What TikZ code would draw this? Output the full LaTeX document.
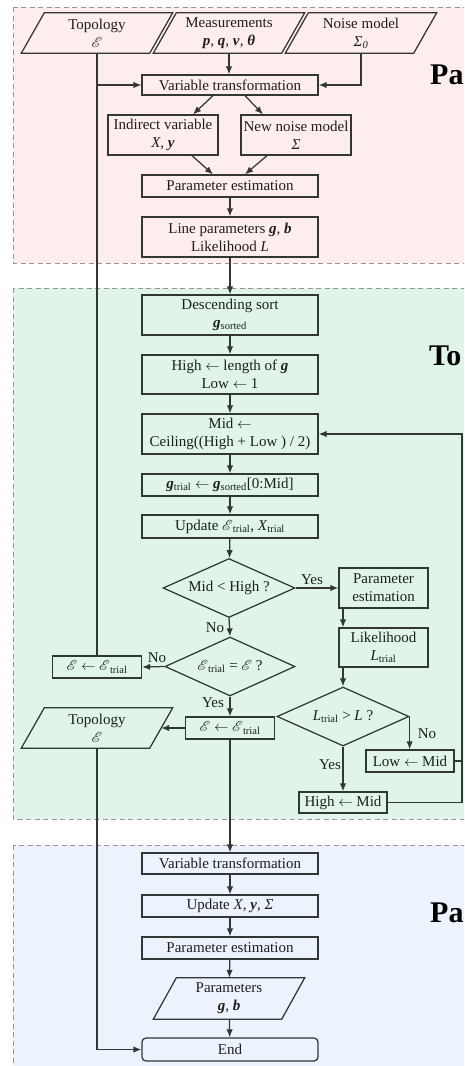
\documentclass[tikz,border=0pt]{standalone}
\usepackage{fontspec}
\usepackage{amsmath}
\usepackage{mathrsfs}
\setmainfont{Liberation Serif}
\usetikzlibrary{arrows.meta,shapes.geometric}

\definecolor{pinkbg}{RGB}{253,237,237}
\definecolor{greenbg}{RGB}{224,245,232}
\definecolor{bluebg}{RGB}{236,243,253}
\definecolor{dashc}{RGB}{150,150,150}
\definecolor{linec}{RGB}{50,55,53}
\definecolor{textc}{RGB}{30,30,30}

\newcommand{\Ecal}{\ensuremath{\mathscr{E}}}
\newcommand{\bivar}[1]{\textbf{\textit{#1}}}
\newcommand{\sbs}[1]{\textsubscript{#1}}
\newcommand{\getsarrow}{\ensuremath{\leftarrow}}

% parallelogram: text node plus slanted outline
\newcommand{\ionode}[4]{%
  \node[iotext, minimum height=#3] (#1) at (#2) {#4};
  \draw[ln] ([xshift=-11.5pt]#1.south west) -- ([xshift=11.5pt]#1.north west)
    -- ([xshift=11.5pt]#1.north east) -- ([xshift=-11.5pt]#1.south east) -- cycle;}

\begin{document}
\begin{tikzpicture}[x=1pt,y=-1pt,
  font=\fontsize{15}{18}\selectfont,
  ln/.style={draw=linec, line width=1.25pt},
  box/.style={rectangle, ln, inner sep=0pt, align=center, text=textc},
  wbox/.style={box, minimum width=176pt},
  sbox/.style={box, minimum width=89pt},
  iotext/.style={rectangle, inner sep=0pt, align=center, text=textc, minimum width=128pt},
  dia/.style={diamond, ln, inner sep=0pt, aspect=2.2, minimum width=132pt,
    minimum height=59pt, text=textc},
  arr/.style={ln, -{Latex[length=8pt,width=6.5pt]}},
  lbl/.style={text=textc, inner sep=0pt},
  big/.style={font=\fontsize{30}{30}\selectfont\bfseries, anchor=base west,
    inner sep=0pt, text=black},
  region/.style={draw=dashc, line width=0.8pt, dash pattern=on 5pt off 3.5pt}
]
\useasboundingbox (0,0) rectangle (464,1066);
\clip (0,0) rectangle (464,1066);

% stage backgrounds
\path[region, fill=pinkbg]  (13,7)   rectangle (520,263);
\path[region, fill=greenbg] (13,288) rectangle (520,819);
\path[region, fill=bluebg]  (13,845) rectangle (520,1100);

\node[big] (lab1) at (430,84)  {Pa};
\node[big] (lab2) at (429,365) {To};
\node[big] (lab3) at (430,922) {Pa};

% ---- first stage
\ionode{topo1}{97,33}{40pt}{Topology\\\Ecal}
\ionode{meas}{229,33}{40pt}{Measurements\\\bivar{p}, \bivar{q}, \bivar{v}, \bivar{θ}}
\ionode{noise}{361,33}{40pt}{Noise model\\\textit{Σ\sbs{0}}}
\node[wbox, minimum height=20pt] (vt1) at (230,85) {Variable transformation};
\node[box, minimum width=110pt, minimum height=40pt] (ind) at (163,135) {Indirect variable\\\textit{X}, \bivar{y}};
\node[box, minimum width=110pt, minimum height=40pt] (nnm) at (296,135) {New noise model\\\textit{Σ}};
\node[wbox, minimum height=22pt] (pe1) at (230,186) {Parameter estimation};
\node[wbox, minimum height=40pt] (lp) at (230,237) {Line parameters \bivar{g}, \bivar{b}\\Likelihood \textit{L}};

% ---- second stage
\node[wbox, minimum height=40pt] (ds) at (230,315) {Descending sort\\\bivar{g}\sbs{sorted}};
\node[wbox, minimum height=39pt] (hl) at (230,374.5) {High \getsarrow\ length of \bivar{g}\\Low \getsarrow\ 1};
\node[wbox, minimum height=40pt] (mid) at (230,434) {Mid \getsarrow\\Ceiling((High + Low ) / 2)};
\node[wbox, minimum height=22pt] (gt) at (230,485) {\bivar{g}\sbs{trial} \getsarrow\ \bivar{g}\sbs{sorted}[0:Mid]};
\node[wbox, minimum height=23pt] (upd) at (230,526.5) {Update \Ecal\sbs{trial}, \textit{X}\sbs{trial}};
\node[dia] (d1) at (229,588) {Mid < High ?};
\node[box, minimum width=89pt, minimum height=40pt] (pe2) at (383.5,588) {Parameter\\estimation};
\node[box, minimum width=89pt, minimum height=39pt] (lik) at (383.5,647.5) {Likelihood\\\textit{L}\sbs{trial}};
\node[dia] (d3) at (343,716.5) {\textit{L}\sbs{trial} > \textit{L} ?};
\node[box, minimum width=88pt, minimum height=22pt] (lowm) at (410,761) {Low \getsarrow\ Mid};
\node[box, minimum width=88pt, minimum height=21pt] (highm) at (343,802.5) {High \getsarrow\ Mid};
\node[dia, minimum width=130pt] (d2) at (230,666.5) {\Ecal\sbs{trial} = \Ecal\ ?};
\node[sbox, minimum height=22pt] (el) at (97,667) {\Ecal\ \getsarrow\ \Ecal\sbs{trial}};
\node[sbox, minimum height=22pt] (er) at (230,728) {\Ecal\ \getsarrow\ \Ecal\sbs{trial}};
\ionode{topo2}{97,728}{40pt}{Topology\\\Ecal}

% ---- third stage
\node[wbox, minimum height=21pt] (vt2) at (230,863.5) {Variable transformation};
\node[wbox, minimum height=22pt] (upd2) at (230,906) {Update \textit{X}, \bivar{y}, \textit{Σ}};
\node[wbox, minimum height=22pt] (pe3) at (230,948) {Parameter estimation};
\ionode{par}{229,998.5}{41pt}{Parameters\\\bivar{g}, \bivar{b}}
\node[wbox, minimum height=23pt, rounded corners=4pt] (endn) at (230,1049.5) {End};

% ---- branch labels
\node[lbl] (yes1) at (312,580) {Yes};
\node[lbl] (no1)  at (215,628) {No};
\node[lbl] (no2)  at (157,658) {No};
\node[lbl] (yes2) at (213,703) {Yes};
\node[lbl] (no3)  at (427,734) {No};
\node[lbl] (yes3) at (330,765) {Yes};

% ---- connectors
\draw[ln] (topo1.south) -- (el.north);
\draw[arr] (topo1.south |- vt1.west) -- (vt1.west);
\draw[arr] (meas.south) -- (meas.south |- vt1.north);
\draw[arr] (noise.south) |- (vt1.east);
\draw[arr] ([xshift=-17pt]vt1.south) -- ([xshift=30pt]ind.north);
\draw[arr] ([xshift=15pt]vt1.south) -- ([xshift=-33pt]nnm.north);
\draw[arr] ([xshift=29pt]ind.south) -- ([xshift=-17pt]pe1.north);
\draw[arr] ([xshift=-29pt]nnm.south) -- ([xshift=15pt]pe1.north);
\draw[arr] (pe1) -- (lp);
\draw[arr] (lp) -- (ds);
\draw[arr] (ds) -- (hl);
\draw[arr] (hl) -- (mid);
\draw[arr] (mid) -- (gt);
\draw[arr] (gt) -- (upd);
\draw[arr] (upd) -- (d1);
\draw[arr] (d1.east) -- (pe2.west);
\draw[arr] (d3.north |- pe2.south) -- (d3.north |- lik.north);
\draw[arr] (d3.north |- lik.south) -- (d3.north);
\draw[arr] (d3.east) -- (d3.east |- lowm.north);
\draw[arr] (d3.south) -- (highm.north);
\coordinate (rr) at (462,802.5);
\draw[arr] (highm.east) -- (rr) |- (mid.east);
\draw[ln] (lowm.east) -- (lowm.east -| rr);
\draw[arr] (d1.south) -- (d2.north);
\draw[arr] (d2.west) -- (el.east);
\draw[arr] (d2.south) -- (er.north);
\draw[arr] (er.west) -- (topo2.east);
\draw[arr] (er.south) -- (vt2.north);
\draw[arr] (topo2.south) |- (endn.west);
\draw[arr] (vt2) -- (upd2);
\draw[arr] (upd2) -- (pe3);
\draw[arr] (pe3) -- (par);
\draw[arr] (par) -- (endn);
\end{tikzpicture}
\end{document}
